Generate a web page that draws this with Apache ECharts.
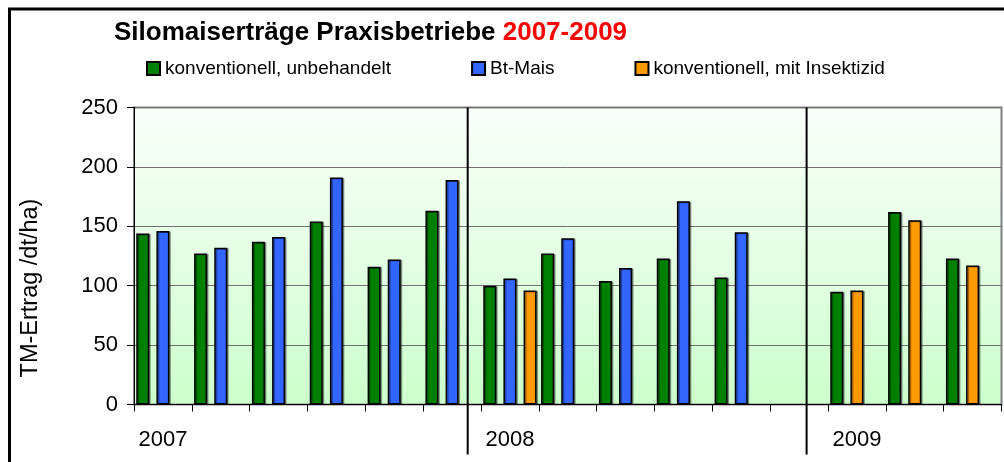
<!DOCTYPE html>
<html>
<head>
<meta charset="utf-8">
<script src="https://cdn.jsdelivr.net/npm/echarts@6/dist/echarts.min.js"></script>
<style>
  html, body { margin: 0; padding: 0; background: #fff; }
  #chart { width: 1004px; height: 462px; }
</style>
</head>
<body>
<div id="chart"></div>
<script>
// columns of the chart, one per farm, grouped by year
const categories = [
    '2007-1', '2007-2', '2007-3', '2007-4', '2007-5', '2007-6',
    '2008-1', '2008-2', '2008-3', '2008-4', '2008-5', '2008-6',
    '2009-1', '2009-2', '2009-3'
]
// TM-Ertrag in dt/ha, null = no bar
const konventionell = [144, 127, 137, 154, 116, 163, 100, 127, 104, 123, 107, null, 95, 162, 123]
const btMais = [146, 132, 141, 191, 122, 189, 106, 140, 115, 171, 145, null, null, null, null]
const insektizid = [null, null, null, null, null, null, 96, null, null, null, null, null, 96, 155, 117]
// year separators, in category units from the left of the plot
const yearDividers = [5.77, 11.63]
const yTicks = [0, 50, 100, 150, 200, 250]

const seriesNames = ['konventionell, unbehandelt', 'Bt-Mais', 'konventionell, mit Insektizid']
const colors = { green: '#008000', blue: '#3366ff', orange: '#ff9900' }
const font = '"Liberation Sans", Arial, sans-serif'

const barStyle = (color) => ({
    color: color,
    borderColor: '#000',
    borderWidth: 1.5,
    shadowColor: 'rgba(0,0,0,0.35)',
    shadowOffsetX: 1.5,
    shadowOffsetY: 0.5,
})

// the Insektizid bar takes the Bt slot where there is no Bt bar
const slot2 = categories.map((c, i) => {
    if (btMais[i] != null) return btMais[i]
    if (insektizid[i] != null) return { value: insektizid[i], itemStyle: { color: colors.orange } }
    return null
})
const slot3 = categories.map((c, i) => (btMais[i] != null ? insektizid[i] : null))

const chart = echarts.init(document.getElementById('chart'))

chart.setOption({
    animation: false,
    backgroundColor: '#fff',
    title: {
        text: '{a|Silomaiserträge Praxisbetriebe }{b|2007-2009}',
        left: 114,
        top: 20,
        padding: 0,
        textStyle: {
            rich: {
                a: { fontFamily: font, fontSize: 26, fontWeight: 'bold', color: '#000' },
                b: { fontFamily: font, fontSize: 26, fontWeight: 'bold', color: '#ff0000' },
            },
        },
    },
    legend: {
        data: seriesNames,
        left: 146,
        top: 59,
        padding: 0,
        icon: 'rect',
        itemWidth: 13,
        itemHeight: 13,
        itemGap: 80,
        textStyle: { fontFamily: font, fontSize: 19, color: '#000' },
    },
    graphic: [{
        type: 'rect',
        shape: { x: 9.5, y: 9, width: 1100, height: 600 },
        style: { fill: 'none', stroke: '#000', lineWidth: 3 },
        silent: true,
    }],
    grid: {
        left: 134,
        right: 2.5,
        top: 107.5,
        bottom: 57.5,
        show: true,
        borderColor: '#808080',
        borderWidth: 2,
        backgroundColor: {
            type: 'linear', x: 0, y: 0, x2: 0, y2: 1,
            colorStops: [{ offset: 0, color: '#fbfffb' }, { offset: 1, color: '#ccffcc' }],
        },
    },
    xAxis: [{
        type: 'category',
        data: categories,
        axisLine: { lineStyle: { color: '#000', width: 1 } },
        axisTick: { show: true, interval: 0, length: 7, lineStyle: { color: '#000' } },
        axisLabel: {
            interval: 0,
            margin: 24,
            fontFamily: font,
            fontSize: 22,
            color: '#000',
            formatter: (v) => (v.endsWith('-1') ? v.split('-')[0] : ''),
        },
        splitLine: { show: false },
    }, {
        type: 'value',
        min: 0,
        max: categories.length,
        show: false,
    }],
    yAxis: {
        type: 'value',
        min: yTicks[0],
        max: yTicks[yTicks.length - 1],
        interval: yTicks[1] - yTicks[0],
        name: 'TM-Ertrag /dt/ha)',
        nameLocation: 'middle',
        nameRotate: 90,
        nameGap: 91,
        nameTextStyle: { fontFamily: font, fontSize: 23.5, color: '#000', padding: [0, 64, 0, 0] },
        axisLine: { show: true, lineStyle: { color: '#000', width: 1 } },
        axisTick: { show: true, length: 7, lineStyle: { color: '#000' } },
        axisLabel: { margin: 16, fontFamily: font, fontSize: 22, color: '#000' },
        splitLine: { lineStyle: { color: '#707070', width: 1 } },
    },
    series: [
        {
            name: seriesNames[0], type: 'bar', data: konventionell,
            barWidth: 13, barGap: '55%', itemStyle: barStyle(colors.green),
        },
        {
            name: seriesNames[1], type: 'bar', data: slot2,
            barWidth: 13, barGap: '55%', itemStyle: barStyle(colors.blue),
        },
        {
            name: seriesNames[2], type: 'bar', data: slot3,
            barWidth: 13, barGap: '55%', itemStyle: barStyle(colors.orange),
        },
        {
            type: 'custom',
            xAxisIndex: 1,
            yAxisIndex: 0,
            clip: false,
            silent: true,
            data: yearDividers.map((d) => [d]),
            renderItem: (params, api) => {
                const top = api.coord([api.value(0), yTicks[yTicks.length - 1]])
                const base = api.coord([api.value(0), 0])
                return {
                    type: 'line',
                    shape: { x1: top[0], y1: top[1], x2: base[0], y2: base[1] + 50 },
                    style: { stroke: '#000', lineWidth: 2 },
                }
            },
        },
    ],
})
</script>
</body>
</html>
